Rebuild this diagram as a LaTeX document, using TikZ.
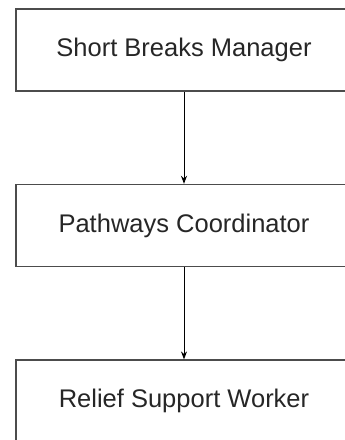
\documentclass[tikz,border=0pt]{standalone}
\usepackage{fontspec}
\setmainfont{Liberation Sans}
\usetikzlibrary{positioning,arrows.meta}

\begin{document}
\begin{tikzpicture}[x=1pt,y=1pt,
  box/.style={draw=black!70,line width=1.6pt,minimum width=336pt,minimum height=82pt,
    inner sep=0pt,font=\fontsize{25.5}{30}\selectfont,text=black!85},
  arr/.style={-{Stealth[length=8pt,width=6pt]},line width=0.9pt}]

  % frame of the picture (boxes run off the right and bottom edges)
  \useasboundingbox (0,0) rectangle (345,-440);
  \clip (0,0) rectangle (345,-440);

  % Chain of posts
  \node[box] (manager) at (184,-50) {Short Breaks Manager};
  \node[box,below=92pt of manager] (coordinator) {Pathways Coordinator};
  \node[box,below=92pt of coordinator] (worker) {Relief Support Worker};

  % Reporting lines
  \draw[arr] (manager) -- (coordinator);
  \draw[arr] (coordinator) -- (worker);
\end{tikzpicture}
\end{document}
